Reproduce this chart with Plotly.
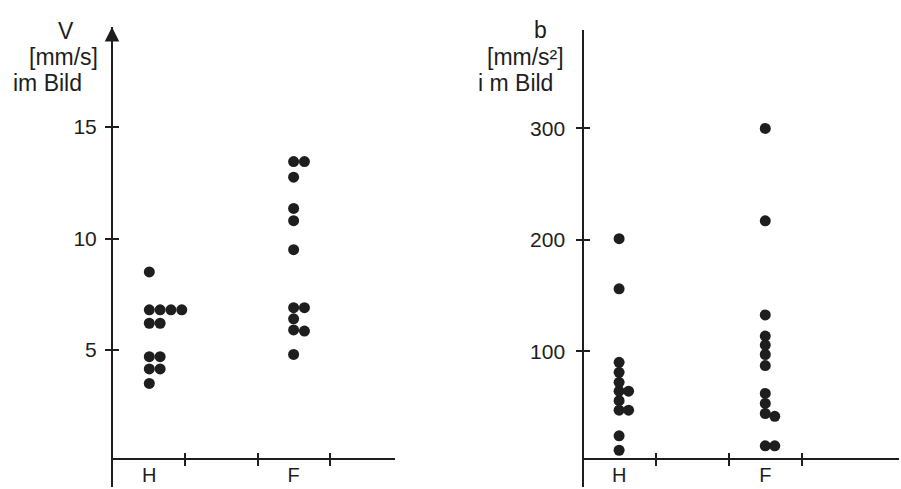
import plotly.graph_objects as go

# ---- data ----
categories = ["H", "F"]
category_pos = [0, 2]
v_H = [8.5, 6.8, 6.8, 6.8, 6.8, 6.2, 6.2, 4.7, 4.7, 4.15, 4.15, 3.5]
v_F = [13.45, 13.45, 12.75, 11.35, 10.8, 9.5, 6.9, 6.9, 6.4, 5.9, 5.85, 4.8]
b_H = [201, 156, 90, 81, 72, 64, 64, 55.5, 47, 47, 24, 11]
b_F = [300, 217, 132.5, 113.5, 105.5, 97, 87, 62, 53, 44, 41.5, 15, 15]
v_ticks = [5, 10, 15]
b_ticks = [100, 200, 300]
group_ticks = [0.5, 1.5, 2.5]

INK = "#1e1e1e"
FONT = dict(family="Liberation Sans, Arial, sans-serif", size=21, color=INK)
TFONT = dict(family="Liberation Sans, Arial, sans-serif", size=23, color=INK)
CFONT = dict(family="Liberation Sans, Arial, sans-serif", size=20, color=INK)
W, H = 901, 489


def slots(values, tol):
    out = []
    for i, v in enumerate(values):
        out.append(sum(1 for w in values[:i] if abs(w - v) <= tol))
    return out


def dot_x(values, pos, tol, step):
    return [pos + s * step for s in slots(values, tol)]


fig = go.Figure()
mk = dict(size=11, color=INK)
for vals, pos in ((v_H, category_pos[0]), (v_F, category_pos[1])):
    fig.add_trace(go.Scatter(x=dot_x(vals, pos, 0.1, 0.15), y=vals, mode="markers",
                             marker=mk, xaxis="x", yaxis="y", showlegend=False,
                             hoverinfo="skip"))
for vals, pos in ((b_H, category_pos[0]), (b_F, category_pos[1])):
    fig.add_trace(go.Scatter(x=dot_x(vals, pos, 3, 0.13), y=vals, mode="markers",
                             marker=mk, xaxis="x2", yaxis="y2", showlegend=False,
                             hoverinfo="skip"))
# empty traces so overlay axes get drawn
for xa, ya in (("x3", "y"), ("x5", "y"), ("x", "y3"), ("x4", "y2"), ("x6", "y2"), ("x2", "y4")):
    fig.add_trace(go.Scatter(x=[], y=[], xaxis=xa, yaxis=ya, showlegend=False))

xpos = (H - 459) / H
Lx0, Lx1 = 112 / W, 395 / W
Rx0, Rx1 = 583.3 / W, 899 / W
Lxr = [-0.517, 3.405]
Rxr = [-0.49, 3.83]
Lyr = [-1.143, 19.484]
Ryr = [-22.0, 388.4]
ydom_L = [2 / H, 1 - 27 / H]
ydom_R = [2 / H, 1 - 30 / H]

base = dict(showgrid=False, zeroline=False, fixedrange=True, tickfont=FONT,
            automargin=False)
lineax = dict(showline=True, linewidth=2, linecolor=INK)
tk = dict(ticklen=6, tickwidth=2, tickcolor=INK)


def xset(dom, rng, overlay=None):
    d = dict(base, range=rng, anchor="free", position=xpos)
    if overlay:
        d["overlaying"] = overlay
    else:
        d["domain"] = dom
    return d


def yset(dom, rng, posx, overlay=None):
    d = dict(base, range=rng, anchor="free", position=posx)
    if overlay:
        d["overlaying"] = overlay
    else:
        d["domain"] = dom
    return d


layout = dict(
    template="none",
    width=W, height=H, margin=dict(l=0, r=0, t=0, b=0, autoexpand=False),
    paper_bgcolor="white", plot_bgcolor="rgba(0,0,0,0)", font=FONT,
    # left panel
    xaxis=dict(xset([Lx0, Lx1], Lxr), **lineax, **tk, ticks="outside",
               tickvals=group_ticks, showticklabels=False),
    xaxis3=dict(xset(None, Lxr, "x"), **tk, ticks="inside", tickvals=group_ticks,
                showticklabels=False, showline=False),
    xaxis5=dict(xset(None, Lxr, "x"), ticks="", tickvals=category_pos, ticktext=categories,
                showline=False, ticklabelstandoff=2, tickfont=CFONT),
    yaxis=dict(yset(ydom_L, Lyr, Lx0), **lineax, **tk, ticks="outside",
               tickvals=v_ticks, ticklabelstandoff=4),
    yaxis3=dict(yset(None, Lyr, Lx0, "y"), **tk, ticks="inside", tickvals=v_ticks,
                showticklabels=False, showline=False),
    # right panel
    xaxis2=dict(xset([Rx0, Rx1], Rxr), **lineax, **tk, ticks="outside",
                tickvals=group_ticks, showticklabels=False),
    xaxis4=dict(xset(None, Rxr, "x2"), **tk, ticks="inside", tickvals=group_ticks,
                showticklabels=False, showline=False),
    xaxis6=dict(xset(None, Rxr, "x2"), ticks="", tickvals=category_pos, ticktext=categories,
                showline=False, ticklabelstandoff=2, tickfont=CFONT),
    yaxis2=dict(yset(ydom_R, Ryr, Rx0), **lineax, **tk, ticks="outside",
                tickvals=b_ticks, ticklabelstandoff=7),
    yaxis4=dict(yset(None, Ryr, Rx0, "y2"), **tk, ticks="inside", tickvals=b_ticks,
                showticklabels=False, showline=False),
)
fig.update_layout(**layout)


def label(text, cx, cy):
    fig.add_annotation(text=text, x=cx / W, y=1 - cy / H, xref="paper", yref="paper",
                       showarrow=False, xanchor="center", yanchor="middle", font=TFONT)


label("V", 66, 31)
label("[mm/s]", 63, 57)
label("im Bild", 47, 83)
label("b", 540, 30)
label("[mm/s²]", 525, 57)
label("i m Bild", 515, 83)

# arrow head on the left value axis
fig.add_annotation(x=0, y=1, xref="x domain", yref="y domain", ax=0, ay=24,
                   showarrow=True, arrowhead=2, arrowsize=1.45, arrowwidth=2,
                   arrowcolor=INK, text="")

fig.write_html("out.html")
